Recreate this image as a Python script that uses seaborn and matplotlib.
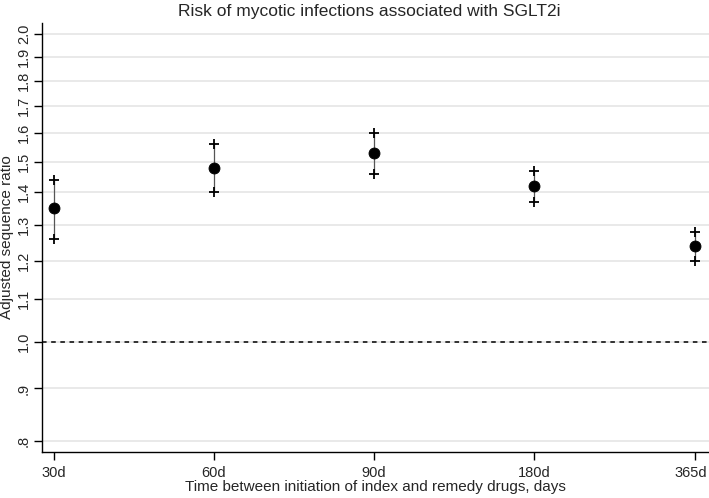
import seaborn as sns
import matplotlib.pyplot as plt
import matplotlib.ticker as mticker
import matplotlib.transforms as mtransforms
import pandas as pd

times = ["30d", "60d", "90d", "180d", "365d"]
asr = [1.35, 1.48, 1.53, 1.42, 1.24]
ci_low = [1.26, 1.40, 1.46, 1.37, 1.20]
ci_high = [1.44, 1.56, 1.60, 1.47, 1.28]
yticks = [0.8, 0.9, 1.0, 1.1, 1.2, 1.3, 1.4, 1.5, 1.6, 1.7, 1.8, 1.9, 2.0]
ytick_labels = [".8", ".9", "1.0", "1.1", "1.2", "1.3", "1.4", "1.5",
                "1.6", "1.7", "1.8", "1.9", "2.0"]

df = pd.DataFrame({"time": times, "asr": asr, "lo": ci_low, "hi": ci_high})

sns.set_style("white")
plt.rcParams["font.family"] = ["Liberation Sans", "DejaVu Sans"]

fig = plt.figure(figsize=(7.09, 4.98), dpi=100)
ax = fig.add_axes([0.0592, 0.0924, 0.9408, 0.8614])

ax.set_yscale("log")
ax.set_ylim(0.78, 2.05)
ax.set_xlim(-0.072, 4.09)

for y in yticks:
    ax.axhline(y, color="#e3e3e3", lw=1.1, zorder=0)
ax.axhline(1.0, color="black", lw=1.1, ls=(0, (3, 3)), zorder=1)

ax.vlines(df["time"], df["lo"], df["hi"], color="#555555", lw=0.9, zorder=2)
sns.scatterplot(data=df, x="time", y="hi", marker="+", s=60, color="black",
                linewidth=1.3, ax=ax, zorder=3)
sns.scatterplot(data=df, x="time", y="lo", marker="+", s=60, color="black",
                linewidth=1.3, ax=ax, zorder=3)
sns.scatterplot(data=df, x="time", y="asr", marker="o", s=62, color="black",
                edgecolor="black", ax=ax, zorder=4)

ax.yaxis.set_major_locator(mticker.FixedLocator(yticks))
ax.yaxis.set_minor_locator(mticker.NullLocator())
ax.set_yticklabels(ytick_labels, rotation=90, va="center")
ax.tick_params(axis="both", direction="out", length=6, width=1, color="black",
               labelsize=10.5, pad=2, left=True, bottom=True)
ax.tick_params(axis="x", pad=4)

# nudge the last x label so it stays inside the figure
last = ax.get_xticklabels()[-1]
last.set_transform(last.get_transform() +
                   mtransforms.ScaledTranslation(-4 / 100, 0, fig.dpi_scale_trans))

for side in ["top", "right"]:
    ax.spines[side].set_visible(False)
for side in ["left", "bottom"]:
    ax.spines[side].set_color("black")
    ax.spines[side].set_linewidth(1)

ax.set_xlabel("Time between initiation of index and remedy drugs, days",
              fontsize=11, labelpad=0)
ax.set_ylabel("Adjusted sequence ratio", fontsize=11, labelpad=2)
ax.set_title("Risk of mycotic infections associated with SGLT2i",
             fontsize=12.5, x=0.49, pad=5)

fig.savefig("out.png", dpi=100)
